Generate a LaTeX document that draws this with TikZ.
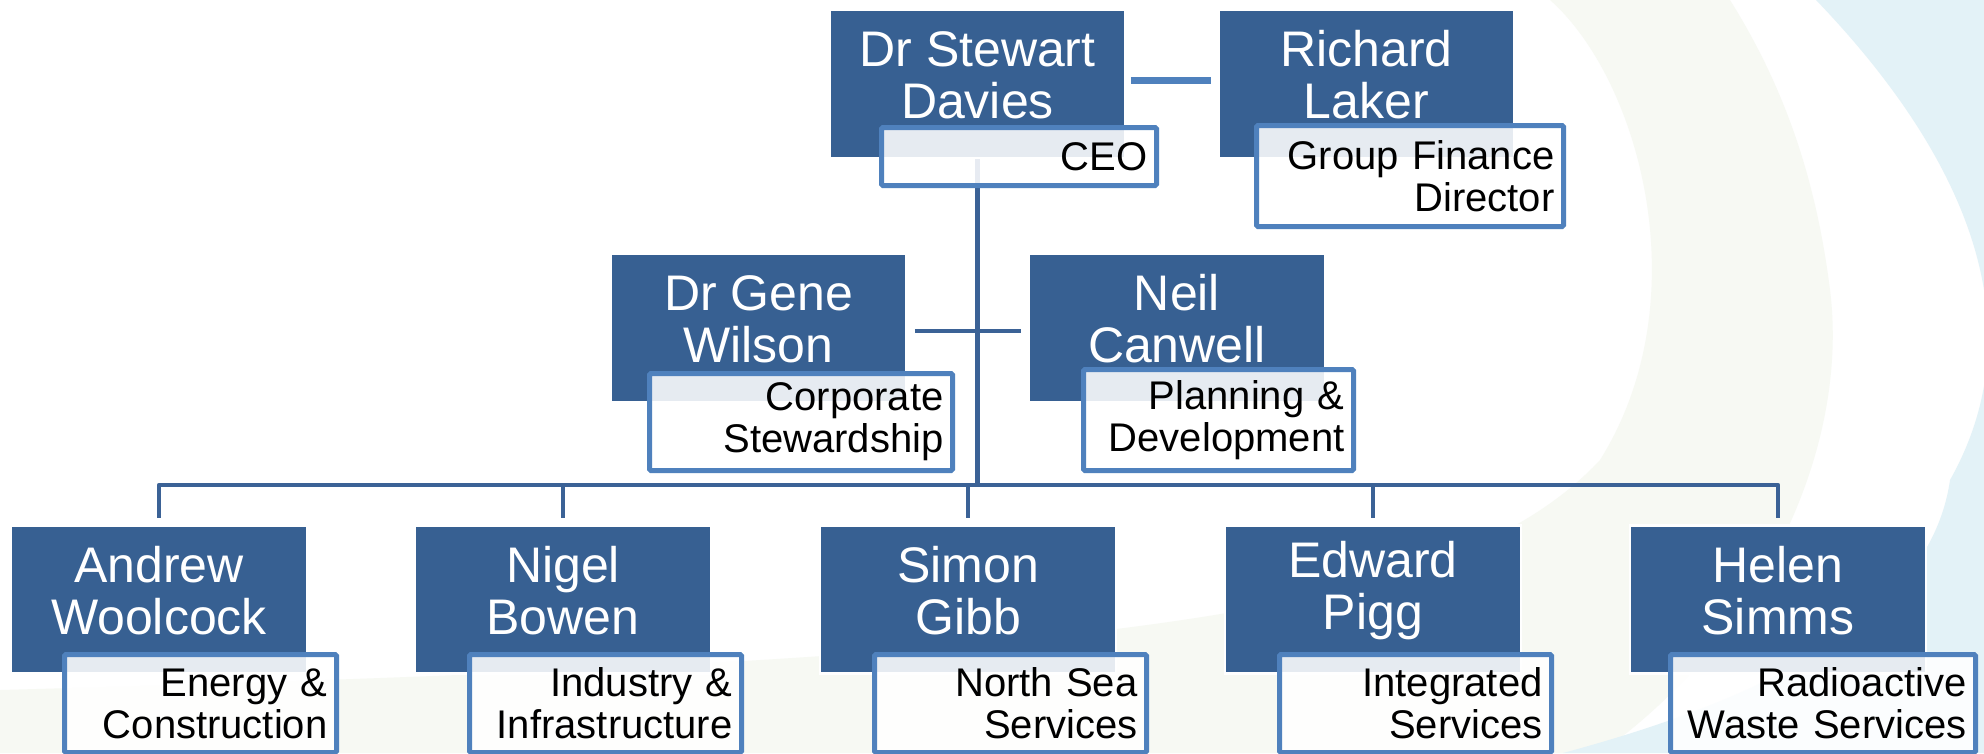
\documentclass[tikz,border=0pt]{standalone}
\usepackage{fontspec}
\setmainfont{Liberation Sans}
\definecolor{boxblue}{HTML}{376092}
\definecolor{linedark}{HTML}{3B6296}
\definecolor{lblue}{HTML}{4F81BD}
\definecolor{cyanbg}{HTML}{E3F2F7}
\definecolor{offwhite}{HTML}{F7F9F3}
\newcommand\myname{\fontsize{50}{52}\selectfont}
\newcommand\mylab{\fontsize{40}{42}\selectfont}
\tikzset{
  namebox/.style={rectangle, fill=boxblue, draw=white, line width=2.5pt,
    minimum width=296pt, minimum height=148pt, inner sep=0pt},
  nametext/.style={text=white, font=\myname, align=center, inner sep=0pt},
  lab/.style={rectangle, draw=lblue, line width=5pt, fill=white,
    fill opacity=0.88, text opacity=1, text=black, font=\mylab, align=right,
    inner xsep=9pt, inner ysep=2pt, rounded corners=1.5pt, anchor=north east},
  con/.style={draw=linedark, line width=4.5pt, line join=round},
  conlight/.style={draw=lblue, line width=7pt},
}
\begin{document}
\begin{tikzpicture}[x=1pt,y=-1pt]
\useasboundingbox (0,0) rectangle (1984,753);
% background
\fill[white] (0,0) rectangle (1984,753);
\fill[offwhite] (1550,0) .. controls (1640,80) and (1700,300) .. (1600,460)
  .. controls (1450,620) and (1100,660) .. (0,690) -- (0,753) -- (1600,753)
  .. controls (1760,640) and (1850,450) .. (1830,290)
  .. controls (1815,170) and (1780,80) .. (1730,0) -- cycle;
\fill[cyanbg] (1816,0) .. controls (1960,150) and (2040,320) .. (1950,480)
  .. controls (1930,620) and (1760,700) .. (1563,753) -- (1984,753) -- (1984,0) -- cycle;

% boxes
\node[namebox] (ceo) at (977.5,84) {};
\node[namebox] (rl) at (1366.5,84) {};
\node[namebox] (gw) at (758.5,328) {};
\node[namebox] (nc) at (1177,328) {};
\node[namebox] (aw) at (159,599.5) {};
\node[namebox] (nb) at (563,599.5) {};
\node[namebox] (sg) at (968,599.5) {};
\node[namebox] (ep) at (1373,599.5) {};
\node[namebox] (hs) at (1778,599.5) {};

% connectors
\coordinate (bus) at (977.5,485);
\draw[conlight, shorten <=4pt, shorten >=6pt] ([yshift=4pt]ceo.east) -- ([yshift=4pt]rl.west);
\draw[con, shorten <=7pt, shorten >=7pt] ([yshift=-3pt]gw.east) -- ([yshift=-3pt]nc.west);
\draw[con] (ceo.south) -- (bus);
\draw[con] (bus) -| ([yshift=6pt]aw.north);
\draw[con] (bus) -| ([yshift=6pt]nb.north);
\draw[con] (bus) -| ([yshift=6pt]sg.north);
\draw[con] (bus) -| ([yshift=6pt]ep.north);
\draw[con] (bus) -| ([yshift=6pt]hs.north);

% names
\node[nametext] (ceo-t) at ([yshift=9pt]ceo.center) {Dr Stewart\\Davies};
\node[nametext] (rl-t) at ([yshift=9pt]rl.center) {Richard\\Laker};
\node[nametext] (gw-t) at ([yshift=9pt]gw.center) {Dr Gene\\Wilson};
\node[nametext] (nc-t) at ([yshift=9pt]nc.center) {Neil\\Canwell};
\node[nametext] (aw-t) at ([yshift=9pt]aw.center) {Andrew\\Woolcock};
\node[nametext] (nb-t) at ([yshift=9pt]nb.center) {Nigel\\Bowen};
\node[nametext] (sg-t) at ([yshift=9pt]sg.center) {Simon\\Gibb};
\node[nametext] (ep-t) at ([yshift=9pt]ep.center) {Edward\\Pigg};
\node[nametext] (hs-t) at ([yshift=9pt]hs.center) {Helen\\Simms};

% role labels
\node[lab, text width=257pt, minimum height=58pt] (ceo-l) at (1159,125) {CEO};
\node[lab, text width=289pt, minimum height=101pt] (rl-l) at (1566,123) {Group Finance\\Director};
\node[lab, text width=285pt, minimum height=97pt] (gw-l) at (955,371) {Corporate\\Stewardship};
\node[lab, text width=252pt, minimum height=101pt] (nc-l) at (1356,367) {Planning \&\\Development};
\node[lab, text width=254pt, minimum height=98pt] (aw-l) at (339,652) {Energy \&\\Construction};
\node[lab, text width=254pt, minimum height=98pt] (nb-l) at (744,652) {Industry \&\\Infrastructure};
\node[lab, text width=254pt, minimum height=98pt] (sg-l) at (1149,652) {North Sea\\Services};
\node[lab, text width=254pt, minimum height=98pt] (ep-l) at (1554,652) {Integrated\\Services};
\node[lab, text width=287pt, minimum height=98pt] (hs-l) at (1978,652) {Radioactive\\Waste Services};
\end{tikzpicture}
\end{document}
